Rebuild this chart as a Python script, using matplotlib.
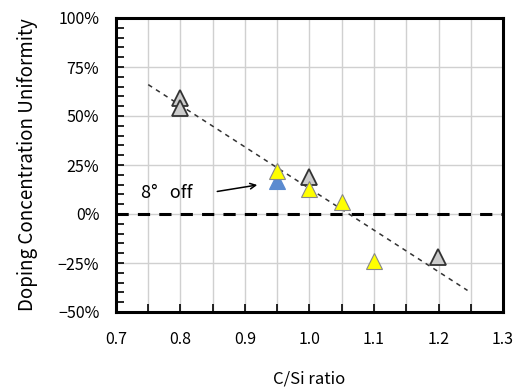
import matplotlib
matplotlib.use('Agg')
import matplotlib.pyplot as plt
import numpy as np
from matplotlib.ticker import MultipleLocator, PercentFormatter

plt.rcParams['font.family'] = ['Noto Sans CJK JP', 'DejaVu Sans']

# data
gray_x = [0.80, 0.80, 1.00, 1.20]
gray_y = [59, 54, 19, -22]
yellow_x = [0.95, 1.00, 1.05, 1.10]
yellow_y = [22, 13, 6, -24]
blue_x = [0.95]
blue_y = [17]
trend_x = [0.75, 1.245]
trend_y = [66, -39]

fig = plt.figure(figsize=(5.2, 3.9), dpi=100)
ax = fig.add_axes([116/520, 1-312/390, (503-116)/520, (312-18)/390])

ax.set_xlim(0.7, 1.3)
ax.set_ylim(-50, 100)
ax.xaxis.set_major_locator(MultipleLocator(0.1))
ax.xaxis.set_minor_locator(MultipleLocator(0.05))
ax.yaxis.set_major_locator(MultipleLocator(25))
ax.yaxis.set_minor_locator(MultipleLocator(5))
ax.yaxis.set_major_formatter(PercentFormatter(decimals=0))
ax.xaxis.set_major_formatter(matplotlib.ticker.FormatStrFormatter('%.1f'))
ax.grid(True, which='major', axis='y', color='#d0d0d0', lw=1)
ax.grid(True, which='both', axis='x', color='#d0d0d0', lw=1)
ax.tick_params(which='both', direction='in', labelsize=11.5, width=1.2)
ax.tick_params(which='major', length=6)
ax.tick_params(axis='x', which='major', pad=14)
ax.tick_params(axis='y', which='major', pad=12)
ax.tick_params(which='minor', length=6)
for s in ax.spines.values():
    s.set_linewidth(2.2)

ax.axhline(0, color='black', lw=2.2, ls=(0, (4, 3)), zorder=2)
ax.plot(trend_x, trend_y, color='#333333', lw=1.1, ls=(0, (3, 3)), zorder=3)

ax.plot(gray_x, gray_y, '^', ms=12, mfc='#cccccc', mec='#333333', mew=1.3, zorder=4)
ax.plot(blue_x, blue_y, '^', ms=12, mfc='#5b8bd0', mec='#5b8bd0', mew=0.8, zorder=4)
ax.plot(yellow_x, yellow_y, '^', ms=12, mfc='#ffff00', mec='#888888', mew=0.8, zorder=5)

ax.text(0.778, 10.5, '8°   off', fontsize=13, ha='center', va='center')
ax.annotate('', xy=(0.919, 14.8), xytext=(0.857, 11.5),
            arrowprops=dict(arrowstyle='->', color='black', lw=1.1,
                            shrinkA=0, shrinkB=0))

ax.set_xlabel('C/Si ratio', fontsize=12, labelpad=16)
ax.set_ylabel('Doping Concentration Uniformity', fontsize=13.5, labelpad=14)

fig.savefig('out.png', dpi=100)
